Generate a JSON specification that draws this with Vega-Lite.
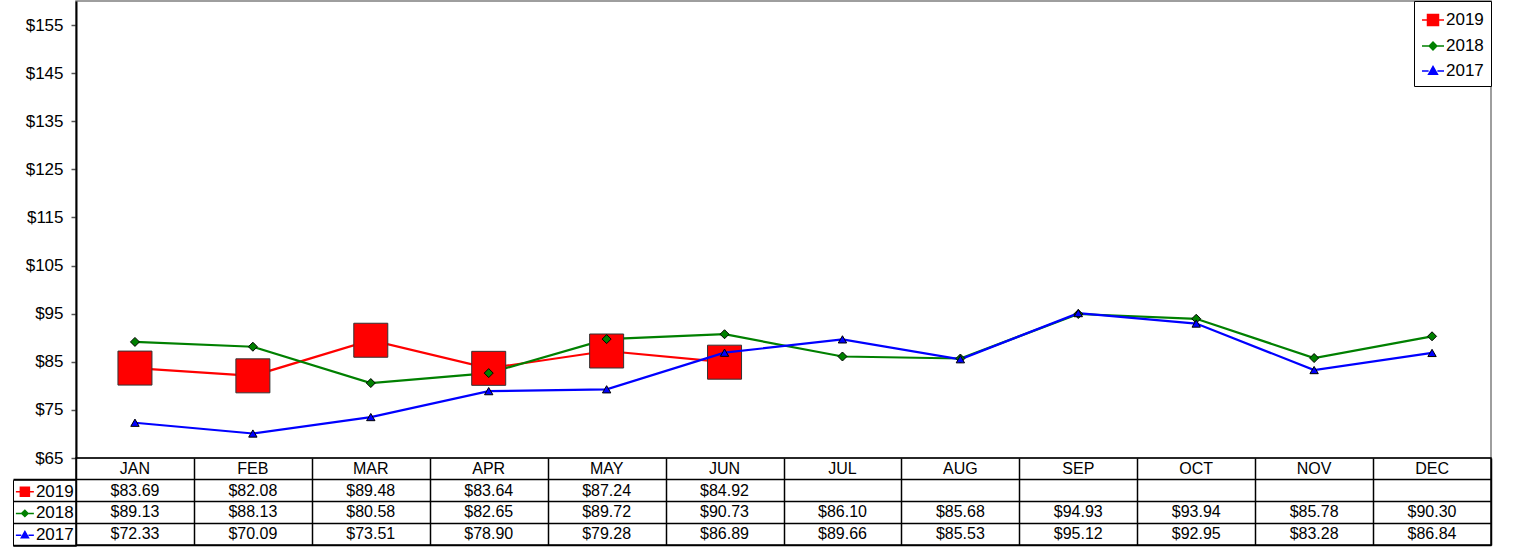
{
  "$schema": "https://vega.github.io/schema/vega-lite/v6.json",
  "padding": {"left": 11, "top": -1, "right": 5, "bottom": 0},
  "bounds": "flush",
  "config": {
    "font": "Liberation Sans",
    "legend": {"labelFont": "Liberation Sans", "labelFontSize": 17, "labelColor": "black"}
  },
  "datasets": {
    "prices": [
      {"month": "JAN", "year": "2019", "price": 83.69},
      {"month": "FEB", "year": "2019", "price": 82.08},
      {"month": "MAR", "year": "2019", "price": 89.48},
      {"month": "APR", "year": "2019", "price": 83.64},
      {"month": "MAY", "year": "2019", "price": 87.24},
      {"month": "JUN", "year": "2019", "price": 84.92},
      {"month": "JAN", "year": "2018", "price": 89.13},
      {"month": "FEB", "year": "2018", "price": 88.13},
      {"month": "MAR", "year": "2018", "price": 80.58},
      {"month": "APR", "year": "2018", "price": 82.65},
      {"month": "MAY", "year": "2018", "price": 89.72},
      {"month": "JUN", "year": "2018", "price": 90.73},
      {"month": "JUL", "year": "2018", "price": 86.10},
      {"month": "AUG", "year": "2018", "price": 85.68},
      {"month": "SEP", "year": "2018", "price": 94.93},
      {"month": "OCT", "year": "2018", "price": 93.94},
      {"month": "NOV", "year": "2018", "price": 85.78},
      {"month": "DEC", "year": "2018", "price": 90.30},
      {"month": "JAN", "year": "2017", "price": 72.33},
      {"month": "FEB", "year": "2017", "price": 70.09},
      {"month": "MAR", "year": "2017", "price": 73.51},
      {"month": "APR", "year": "2017", "price": 78.90},
      {"month": "MAY", "year": "2017", "price": 79.28},
      {"month": "JUN", "year": "2017", "price": 86.89},
      {"month": "JUL", "year": "2017", "price": 89.66},
      {"month": "AUG", "year": "2017", "price": 85.53},
      {"month": "SEP", "year": "2017", "price": 95.12},
      {"month": "OCT", "year": "2017", "price": 92.95},
      {"month": "NOV", "year": "2017", "price": 83.28},
      {"month": "DEC", "year": "2017", "price": 86.84}
    ]
  },
  "spacing": 0,
  "resolve": {
    "scale": {"x": "independent", "y": "independent", "fill": "independent", "stroke": "independent", "shape": "independent"},
    "legend": {"fill": "independent", "stroke": "independent", "shape": "independent"}
  },
  "vconcat": [
    {
      "width": 1415,
      "height": 457,
      "view": {"stroke": "#7f7f7f", "strokeWidth": 1.5},
      "data": {"name": "prices"},
      "encoding": {
        "x": {
          "field": "month", "type": "ordinal",
          "sort": ["JAN","FEB","MAR","APR","MAY","JUN","JUL","AUG","SEP","OCT","NOV","DEC"],
          "scale": {"type": "point", "padding": 0.5, "domain": ["JAN","FEB","MAR","APR","MAY","JUN","JUL","AUG","SEP","OCT","NOV","DEC"]},
          "axis": null
        },
        "y": {
          "field": "price", "type": "quantitative",
          "scale": {"domain": [65, 160], "nice": false, "zero": false},
          "axis": {"title": null, "values": [65, 75, 85, 95, 105, 115, 125, 135, 145, 155], "format": "$.0f", "grid": false,
            "labelFontSize": 17, "labelColor": "black", "labelFont": "Liberation Sans", "tickSize": 5, "tickColor": "#555555", "tickWidth": 1.5,
            "labelPadding": 8, "domainColor": "black", "domainWidth": 2}
        }
      },
      "layer": [
        {
          "transform": [{"filter": "datum.year == '2019'"}],
          "mark": {"type": "line", "strokeWidth": 2.2, "stroke": "#ff0000"}
        },
        {
          "transform": [{"filter": "datum.year == '2018'"}],
          "mark": {"type": "line", "strokeWidth": 2.2, "stroke": "#008000"}
        },
        {
          "transform": [{"filter": "datum.year == '2019'"}],
          "mark": {"type": "point", "shape": "square", "size": 1156, "filled": true, "fill": "#ff0000", "stroke": "#333333", "strokeWidth": 1, "opacity": 1}
        },
        {
          "transform": [{"filter": "datum.year == '2017'"}],
          "mark": {"type": "line", "strokeWidth": 2.2, "stroke": "#0000ff"}
        },
        {
          "transform": [{"filter": "datum.year == '2018'"}],
          "mark": {"type": "point", "shape": "diamond", "size": 81, "filled": true, "fill": "#008000", "stroke": "#000000", "strokeWidth": 1, "opacity": 1}
        },
        {
          "transform": [{"filter": "datum.year == '2017'"}],
          "mark": {"type": "point", "shape": "triangle-up", "size": 70, "filled": true, "fill": "#0000ff", "stroke": "#000000", "strokeWidth": 1, "opacity": 1}
        },
        {
          "transform": [{"filter": "false"}],
          "mark": {"type": "point", "filled": true, "opacity": 1, "strokeWidth": 1.5},
          "encoding": {
            "fill": {"field": "year", "type": "nominal", "scale": {"domain": ["2019","2018","2017"], "range": ["#ff0000","#008000","#0000ff"]},
              "legend": {"title": null, "orient": "top-right", "offset": 0, "strokeColor": "black", "fillColor": "white", "padding": 7, "rowPadding": 5, "symbolSize": 484, "labelOffset": 1, "symbolStrokeWidth": 1.5}},
            "stroke": {"field": "year", "type": "nominal", "scale": {"domain": ["2019","2018","2017"], "range": ["#ff0000","#008000","#0000ff"]},
              "legend": {"title": null, "orient": "top-right", "offset": 0, "strokeColor": "black", "fillColor": "white", "padding": 7, "rowPadding": 5, "symbolSize": 484, "labelOffset": 1, "symbolStrokeWidth": 1.5}},
            "shape": {"field": "year", "type": "nominal", "scale": {"domain": ["2019","2018","2017"], "range": [
                "M-1,0H-0.5M0.5,0H1M-0.5,-0.5H0.5V0.5H-0.5Z",
                "M-1,0H-0.35M0.35,0H1M-0.35,0L0,-0.35L0.35,0L0,0.35Z",
                "M-1,0H-0.4M0.4,0H1M-0.4,0.3L0,-0.4L0.4,0.3Z"]},
              "legend": {"title": null, "orient": "top-right", "offset": 0, "strokeColor": "black", "fillColor": "white", "padding": 7, "rowPadding": 5, "symbolSize": 484, "labelOffset": 1, "symbolStrokeWidth": 1.5}}
          }
        }
      ]
    },
    {
      "width": 1415,
      "height": 87,
      "view": {"stroke": "black", "strokeWidth": 1.5},
      "data": {"name": "prices"},
      "encoding": {
        "x": {
          "field": "month", "type": "ordinal", "bandPosition": 0.5,
          "scale": {"type": "band", "paddingInner": 0, "paddingOuter": 0, "domain": ["JAN","FEB","MAR","APR","MAY","JUN","JUL","AUG","SEP","OCT","NOV","DEC"]},
          "axis": {"title": null, "labels": false, "ticks": false, "domain": false, "grid": true, "tickBand": "extent", "gridColor": "black", "gridWidth": 1.5, "gridOpacity": 1}
        }
      },
      "layer": [
        {
          "mark": {"type": "text", "fontSize": 16, "color": "black", "baseline": "middle", "align": "center"},
          "encoding": {
            "y": {"field": "year", "type": "ordinal", "bandPosition": 0.5,
              "scale": {"type": "band", "paddingInner": 0, "paddingOuter": 0, "domain": ["hdr","2019","2018","2017"]},
              "axis": {"title": null, "labels": false, "ticks": true, "tickSize": 63, "tickColor": "black", "tickWidth": 1.5, "bandPosition": 1, "domain": false, "grid": true, "gridColor": "black", "gridWidth": 1.5, "gridOpacity": 1}},
            "text": {"field": "price", "type": "quantitative", "format": "$.2f"}
          }
        },
        {
          "transform": [{"filter": "datum.year == '2018'"}],
          "mark": {"type": "text", "fontSize": 16, "color": "black", "baseline": "middle", "align": "center"},
          "encoding": {
            "y": {"datum": "hdr", "type": "ordinal", "bandPosition": 0.5},
            "text": {"field": "month", "type": "nominal"}
          }
        },
        {
          "transform": [{"filter": "false"}],
          "mark": {"type": "point", "filled": true, "opacity": 1, "strokeWidth": 1.5},
          "encoding": {
            "y": {"field": "year", "type": "ordinal"},
            "fill": {"field": "year", "type": "nominal", "scale": {"domain": ["2019","2018","2017"], "range": ["#ff0000","#008000","#0000ff"]},
              "legend": {"title": null, "orient": "none", "legendX": -63, "legendY": 21.75, "strokeColor": "black", "padding": 1.875, "rowPadding": 3.75, "symbolSize": 324, "labelOffset": 1, "symbolStrokeWidth": 1.5}},
            "stroke": {"field": "year", "type": "nominal", "scale": {"domain": ["2019","2018","2017"], "range": ["#ff0000","#008000","#0000ff"]},
              "legend": {"title": null, "orient": "none", "legendX": -63, "legendY": 21.75, "strokeColor": "black", "padding": 1.875, "rowPadding": 3.75, "symbolSize": 324, "labelOffset": 1, "symbolStrokeWidth": 1.5}},
            "shape": {"field": "year", "type": "nominal", "scale": {"domain": ["2019","2018","2017"], "range": [
                "M-1,0H-0.5M0.5,0H1M-0.5,-0.5H0.5V0.5H-0.5Z",
                "M-1,0H-0.35M0.35,0H1M-0.35,0L0,-0.35L0.35,0L0,0.35Z",
                "M-1,0H-0.4M0.4,0H1M-0.4,0.3L0,-0.4L0.4,0.3Z"]},
              "legend": {"title": null, "orient": "none", "legendX": -63, "legendY": 21.75, "strokeColor": "black", "padding": 1.875, "rowPadding": 3.75, "symbolSize": 324, "labelOffset": 1, "symbolStrokeWidth": 1.5}}
          }
        }
      ]
    }
  ]
}
